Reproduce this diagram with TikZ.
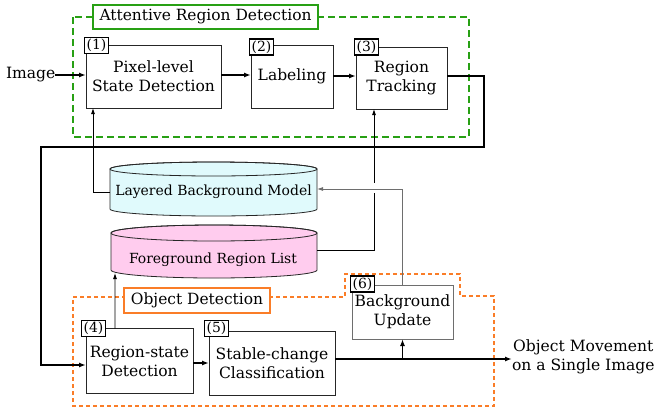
\documentclass[tikz,border=0pt]{standalone}
\usepackage{fontspec}
\setmainfont{DejaVu Serif}
\usetikzlibrary{arrows.meta,calc}
\definecolor{grn}{RGB}{40,160,20}
\definecolor{org}{RGB}{250,125,40}
\definecolor{lbmfill}{RGB}{224,250,252}
\definecolor{frlfill}{RGB}{255,204,238}
\definecolor{lgray}{RGB}{110,110,110}
\begin{document}
\begin{tikzpicture}[x=1bp,y=-1bp,
  every node/.style={inner sep=0pt, outer sep=0pt},
  mainfont/.style={font=\fontsize{15.6}{19}\selectfont},
  proc/.style={draw=black!85, line width=0.9bp, fill=white, align=center, mainfont},
  lab/.style={draw=black, line width=1.4bp, fill=white, minimum width=24bp, minimum height=16bp, font=\fontsize{14}{14}\selectfont},
  cyltext/.style={font=\fontsize{14}{16}\selectfont},
  title/.style={fill=white, line width=1.3bp, font=\fontsize{15.5}{16}\selectfont},
  thickflow/.style={line width=1.5bp, -{Latex[length=7bp,width=5bp]}},
  thinflow/.style={line width=0.8bp, -{Latex[length=6bp,width=4bp]}},
  grayflow/.style={line width=0.8bp, draw=lgray, -{Latex[length=6bp,width=4bp]}}
]
\useasboundingbox (0,0) rectangle (658,414);

% regions
\draw[grn, line width=2.4bp, dash pattern=on 7bp off 4bp] (73,17) rectangle (469,137);
\node[title, draw=grn, minimum width=225bp, minimum height=24bp] (t1) at (205.5,17) {Attentive Region Detection};

\draw[org, line width=2.4bp, dash pattern=on 4bp off 3bp]
  (73,297) -- (345,297) -- (345,274) -- (460,274) -- (460,296) -- (494,296) -- (494,406) -- (73,406) -- cycle;
\node[title, draw=org, minimum width=146bp, minimum height=25bp] (t2) at (197,300.5) {Object Detection};

% cylinders
\fill[lbmfill, draw=black!85, line width=0.8bp]
  (110,169) -- (110,209) arc[start angle=180, end angle=0, x radius=103.5, y radius=7]
  -- (317,169) arc[start angle=0, end angle=-180, x radius=103.5, y radius=7] -- cycle;
\draw[black!85, line width=0.8bp] (213.5,169) ellipse [x radius=103.5, y radius=7];
\node[minimum width=207bp, minimum height=54bp] (lbm) at (213.5,189) {};
\node[cyltext] (lbmtext) at (213.5,192) {Layered Background Model};

\fill[frlfill, draw=black!85, line width=0.8bp]
  (111,233) -- (111,270) arc[start angle=180, end angle=0, x radius=103, y radius=8]
  -- (317,233) arc[start angle=0, end angle=-180, x radius=103, y radius=8] -- cycle;
\draw[black!85, line width=0.8bp] (214,233) ellipse [x radius=103, y radius=8];
\node[minimum width=206bp, minimum height=53bp] (frl) at (214,251.5) {};
\node[cyltext] (frltext) at (213,260) {Foreground Region List};

% process boxes
\node[proc, minimum width=135bp, minimum height=63bp] (b1) at (153.5,76.5) {Pixel-level\\State Detection};
\node[proc, minimum width=82bp, minimum height=63bp] (b2) at (292,76.5) {Labeling};
\node[proc, minimum width=91bp, minimum height=62bp] (b3) at (401.5,78) {Region\\Tracking};
\node[proc, minimum width=107bp, minimum height=65bp] (b4) at (139.5,361) {Region-state\\Detection};
\node[proc, minimum width=126bp, minimum height=64bp] (b5) at (272,363) {Stable-change\\Classification};
\node[proc, draw=lgray, minimum width=101bp, minimum height=54bp] (b6) at (402.5,312) {Background\\Update};

% number labels
\node[lab] (l1) at (96.5,45.5) {(1)};
\node[lab] (l2) at (261.5,47) {(2)};
\node[lab] (l3) at (366.5,47) {(3)};
\node[lab] (l4) at (93.5,328.5) {(4)};
\node[lab] (l5) at (216.5,328.5) {(5)};
\node[lab] (l6) at (362.5,284) {(6)};

% outer texts
\node[mainfont, anchor=west] (img) at (6,75) {Image};
\node[mainfont, align=center, anchor=west] (out) at (512,357) {Object Movement\\on a Single Image};

% main flow
\draw[thickflow] (img.east) -- (b1.west |- img.east);
\draw[thickflow] (b1.east |- 0,75) -- (b2.west |- 0,75);
\draw[thickflow] (b2.east |- 0,76) -- (b3.west |- 0,76);
\coordinate (c1) at (484,147);
\coordinate (c2) at (41,147);
\draw[line width=1.5bp, -{Latex[length=7bp,width=5bp]}] (b3.east |- 0,76) -| (c1) -- (c2) |- ($(b4.west)+(0,4)$);
\draw[thickflow] (b4.east |- 0,363) -- (b5.west |- 0,363);
\coordinate (br) at (b6.south |- 0,359);
\draw[thickflow] (b5.east |- 0,359) -- (out.west |- 0,359);
\draw[thickflow] (br) -- (b6.south);

% data flows
\draw[thinflow] ($(lbm.west)+(0,3)$) -| ($(b1.south west)+(7,0)$);
\coordinate (fb) at (115,273);
\draw[thinflow] ($(b4.north west)+(29,0)$) -- (fb);
\draw[thinflow] (frl.east |- 0,250) -| ($(b3.south west)+(18,0)$);
\draw[white, line width=4bp] (374,183) -- (374,193);
\draw[grayflow] (b6.north) |- (lbm.east);
\end{tikzpicture}
\end{document}
